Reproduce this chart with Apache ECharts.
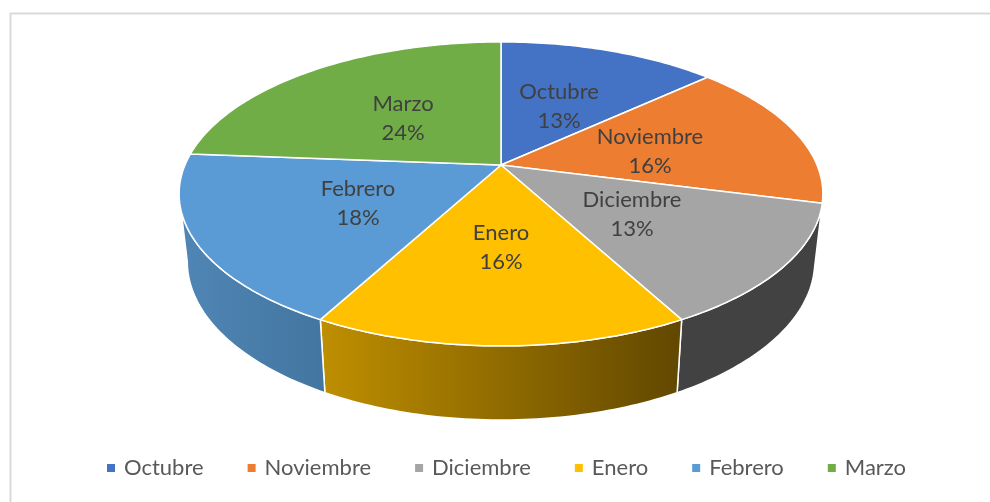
<!DOCTYPE html>
<html lang="en">
<head>
    <meta charset="UTF-8">
    <title>Pie 3D</title>
    <script src="https://cdn.jsdelivr.net/npm/echarts/dist/echarts.min.js"></script>
    <style>
        html, body { margin: 0; padding: 0; background: #fff; }
        #chart { width: 990px; height: 502px; }
    </style>
</head>
<body>
    <div id="chart"></div>

    <script>
        var months = ['Octubre', 'Noviembre', 'Diciembre', 'Enero', 'Febrero', 'Marzo'];
        var shares = [13.2, 15.8, 13.1, 15.8, 18.3, 23.8];

        // Colours
        var topColors = ['#4472c4', '#ed7d31', '#a5a5a5', '#ffc000', '#5b9bd5', '#70ad47'];
        var wallColors = [null, null, ['#424242', '#424242'], ['#bf8f00', '#614700'], ['#5086b6', '#43769f'], null];

        // Label centres, the spots Excel chose
        var labelSpots = [[559, 106], [650, 151], [632, 214], [501, 247], [358, 203], [403, 118]];

        // Perspective of the top and bottom rims
        var topRim = { x: 501, y: 165, a: 316, b: 146.5, k: 0.19 };
        var lowRim = { x: 501, y: 231.4, a: 308, b: 152.8, k: 0.19 };
        var frontFrom = 101, frontTo = 259;

        function project(rim, deg) {
            var rad = deg * Math.PI / 180;
            var u = Math.sin(rad), v = Math.cos(rad);
            var w = 1 + rim.k * v;
            return [rim.x + rim.a * u / w, rim.y - rim.b * v / w];
        }

        function arcPoints(rim, from, to) {
            var pts = [];
            var steps = Math.max(2, Math.ceil(Math.abs(to - from)));
            for (var i = 0; i <= steps; i++) {
                pts.push(project(rim, from + (to - from) * i / steps));
            }
            return pts;
        }

        var total = shares.reduce(function (a, b) { return a + b; }, 0);
        var running = 0;

        var series = months.map(function (name, idx) {
            var start = running / total * 360;
            running += shares[idx];
            var end = running / total * 360;
            return {
                name: name,
                type: 'custom',
                coordinateSystem: 'none',
                animation: false,
                silent: true,
                itemStyle: { color: topColors[idx] },
                data: [[start, end, shares[idx] / total * 100]],
                renderItem: function (params, api) {
                    var a0 = api.value(0), a1 = api.value(1);
                    var children = [];

                    // side wall, front part only
                    var wf = Math.max(a0, frontFrom), wt = Math.min(a1, frontTo);
                    if (wallColors[idx] && wt > wf) {
                        var wallPts = arcPoints(topRim, wf, wt).concat(arcPoints(lowRim, wt, wf));
                        children.push({
                            type: 'polygon',
                            z2: 1,
                            shape: { points: wallPts },
                            style: {
                                fill: new echarts.graphic.LinearGradient(0, 0, 1, 0, [
                                    { offset: 0, color: wallColors[idx][0] },
                                    { offset: 1, color: wallColors[idx][1] }
                                ]),
                                stroke: '#fff',
                                lineWidth: 1.5,
                                lineJoin: 'round'
                            }
                        });
                    }

                    // top face
                    var topPts = [[topRim.x, topRim.y]].concat(arcPoints(topRim, a0, a1));
                    children.push({
                        type: 'polygon',
                        z2: 2,
                        shape: { points: topPts },
                        style: { fill: topColors[idx], stroke: '#fff', lineWidth: 1.5, lineJoin: 'round' }
                    });

                    // label
                    children.push({
                        type: 'text',
                        z2: 3,
                        style: {
                            text: name + '\n' + Math.round(api.value(2)) + '%',
                            x: labelSpots[idx][0],
                            y: labelSpots[idx][1],
                            align: 'center',
                            verticalAlign: 'middle',
                            fontFamily: 'Lato',
                            fontSize: 22,
                            lineHeight: 29,
                            fill: '#404040'
                        }
                    });

                    return { type: 'group', children: children };
                }
            };
        });

        var chart = echarts.init(document.getElementById('chart'));

        chart.setOption({
            backgroundColor: '#fff',
            legend: {
                data: months,
                left: 102,
                top: 452,
                icon: 'rect',
                itemWidth: 8,
                itemHeight: 8,
                itemGap: 44,
                selectedMode: false,
                textStyle: {
                    fontFamily: 'Lato',
                    fontSize: 22,
                    color: '#595959',
                    padding: [0, 0, 0, 4]
                }
            },
            graphic: [{
                // chart frame, runs off the right and bottom of the shot
                type: 'rect',
                silent: true,
                shape: { x: 10.5, y: 13.5, width: 1100, height: 600 },
                style: { fill: 'none', stroke: '#d9d9d9', lineWidth: 2 }
            }],
            series: series
        });
    </script>
</body>
</html>
